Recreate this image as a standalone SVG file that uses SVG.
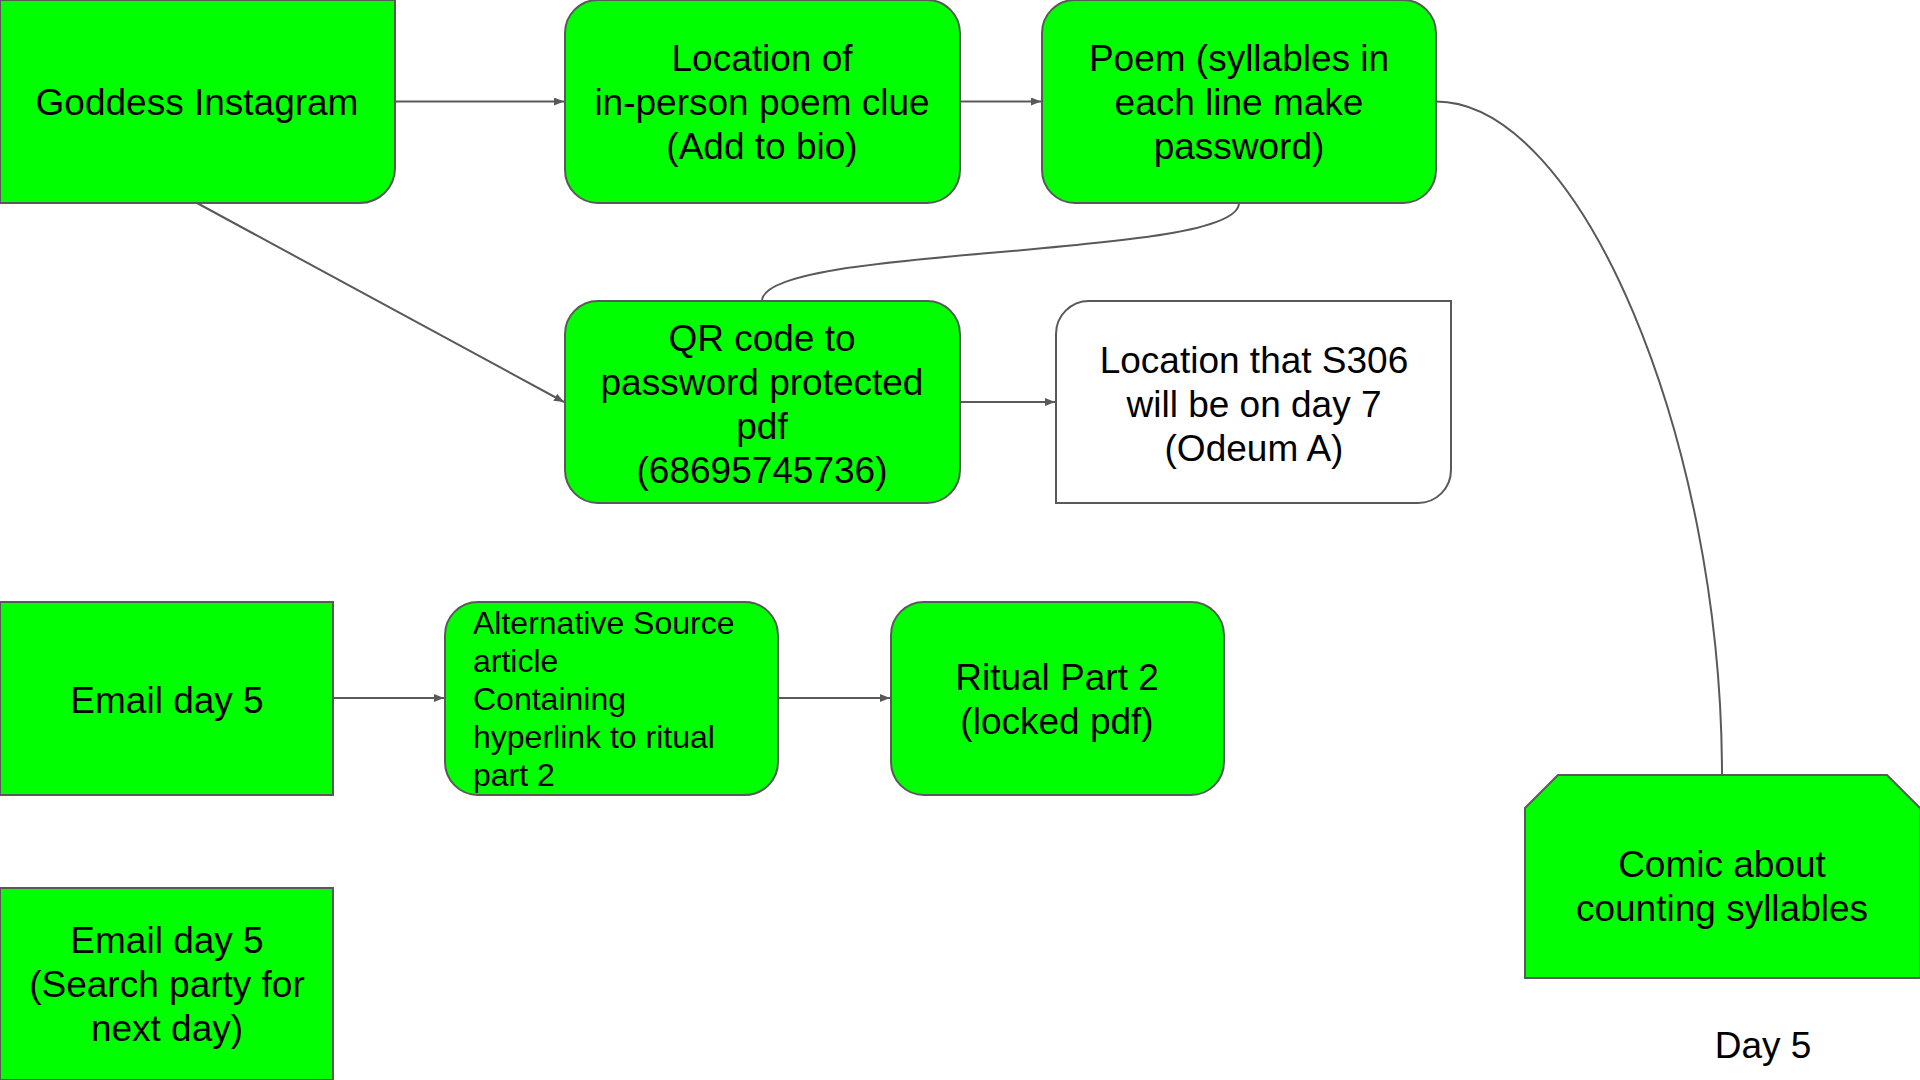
<svg xmlns="http://www.w3.org/2000/svg" width="1920" height="1080" viewBox="0 0 1920 1080">
<style>
.n{fill:#00ff00;stroke:#595959;stroke-width:2}
.w{fill:#ffffff;stroke:#595959;stroke-width:2}
.t{font-family:"Liberation Sans",Arial,sans-serif;font-size:37px;fill:#000;text-anchor:middle}
.s{font-family:"Liberation Sans",Arial,sans-serif;font-size:32px;fill:#000}
.c{fill:none;stroke:#595959;stroke-width:2}
</style>
<defs>
<marker id="ah" markerWidth="10" markerHeight="8" refX="10" refY="4" orient="auto" markerUnits="userSpaceOnUse">
<path d="M0 0 L10 4 L0 8 Z" fill="#595959"/>
</marker>
</defs>
<rect width="1920" height="1080" fill="#ffffff"/>
<g id="connectors">
<path class="c" d="M395 101.5 H564" marker-end="url(#ah)"/>
<path class="c" d="M960 101.5 H1041" marker-end="url(#ah)"/>
<path class="c" d="M197 203 L564 402" marker-end="url(#ah)"/>
<path class="c" d="M1239 203 C1239 260 762 244 762 301"/>
<path class="c" d="M1436 101.5 C1580 101.5 1722 438 1722 775"/>
<path class="c" d="M960 402 H1055" marker-end="url(#ah)"/>
<path class="c" d="M333 698 H444" marker-end="url(#ah)"/>
<path class="c" d="M778 698 H890" marker-end="url(#ah)"/>
</g>
<g id="goddess">
<path class="n" d="M0 0 H395 V168 A35 35 0 0 1 360 203 H0 Z"/>
<text class="t" x="197" y="115">Goddess Instagram</text>
</g>
<g id="location">
<rect class="n" x="565" y="0" width="395" height="203" rx="33"/>
<text class="t" x="762" y="71">Location of</text>
<text class="t" x="762" y="115">in-person poem clue</text>
<text class="t" x="762" y="159">(Add to bio)</text>
</g>
<g id="poem">
<rect class="n" x="1042" y="0" width="394" height="203" rx="33"/>
<text class="t" x="1239" y="71">Poem (syllables in</text>
<text class="t" x="1239" y="115">each line make</text>
<text class="t" x="1239" y="159">password)</text>
</g>
<g id="qr">
<rect class="n" x="565" y="301" width="395" height="202" rx="33"/>
<text class="t" x="762" y="351">QR code to</text>
<text class="t" x="762" y="395">password protected</text>
<text class="t" x="762" y="439">pdf</text>
<text class="t" x="762" y="483">(68695745736)</text>
</g>
<g id="s306">
<path class="w" d="M1089 301 H1451 V470 A33 33 0 0 1 1418 503 H1056 V334 A33 33 0 0 1 1089 301 Z"/>
<text class="t" x="1254" y="373">Location that S306</text>
<text class="t" x="1254" y="417">will be on day 7</text>
<text class="t" x="1254" y="461">(Odeum A)</text>
</g>
<g id="email1">
<rect class="n" x="0" y="602" width="333" height="193"/>
<text class="t" x="167" y="713">Email day 5</text>
</g>
<g id="altsource">
<rect class="n" x="445" y="602" width="333" height="193" rx="33"/>
<text class="s" x="473" y="634">Alternative Source</text>
<text class="s" x="473" y="672">article</text>
<text class="s" x="473" y="710">Containing</text>
<text class="s" x="473" y="748">hyperlink to ritual</text>
<text class="s" x="473" y="786">part 2</text>
</g>
<g id="ritual">
<rect class="n" x="891" y="602" width="333" height="193" rx="33"/>
<text class="t" x="1057" y="690">Ritual Part 2</text>
<text class="t" x="1057" y="734">(locked pdf)</text>
</g>
<g id="email2">
<rect class="n" x="0" y="888" width="333" height="192"/>
<text class="t" x="167" y="953">Email day 5</text>
<text class="t" x="167" y="997">(Search party for</text>
<text class="t" x="167" y="1041">next day)</text>
</g>
<g id="comic">
<path class="n" d="M1525 808 L1558 775 H1887 L1920 808 V978 H1525 Z"/>
<text class="t" x="1722" y="877">Comic about</text>
<text class="t" x="1722" y="921">counting syllables</text>
</g>
<g id="day5">
<text class="t" x="1763" y="1058">Day 5</text>
</g>
</svg>
